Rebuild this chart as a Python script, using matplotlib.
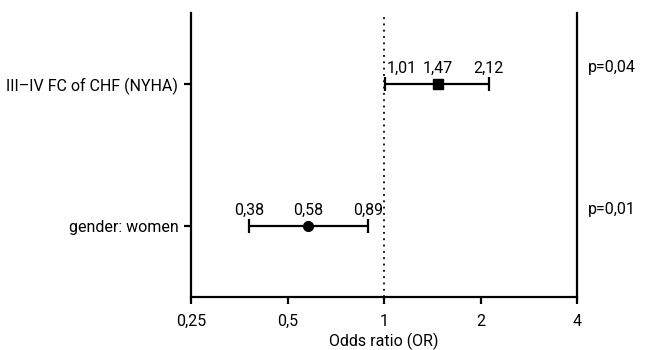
import numpy as np
import matplotlib
matplotlib.use("Agg")
import matplotlib.pyplot as plt

plt.rcParams['font.family'] = ['Roboto', 'DejaVu Sans']

# data
labels = ["III\u2013IV FC of CHF (NYHA)", "gender: women"]
odds = [1.47, 0.58]
ci_low = [1.01, 0.38]
ci_high = [2.12, 0.89]
markers = ["s", "o"]
pvals = ["p=0,04", "p=0,01"]
xticks = [0.25, 0.5, 1, 2, 4]
xtick_labels = ["0,25", "0,5", "1", "2", "4"]

FS = 11.5


def fmt(v):
    return ("%.2f" % v).replace(".", ",")


fig = plt.figure(figsize=(6.47, 3.5), dpi=100)
ax = fig.add_axes([191 / 647, 53 / 350, 386 / 647, 284 / 350])

ypos = np.arange(len(labels))
for i in range(len(labels)):
    y = ypos[i]
    ax.errorbar(odds[i], y, xerr=[[odds[i] - ci_low[i]], [ci_high[i] - odds[i]]],
                fmt=markers[i], color="black", ms=7, capsize=5, capthick=1.6,
                elinewidth=1.6)
    for v in (ci_low[i], odds[i], ci_high[i]):
        # keep labels off the dotted reference line
        dx = 0
        if 1 <= v < 1.1:
            dx = 12
        elif 0.9 < v < 1:
            dx = -4
        ax.annotate(fmt(v), (v, y), xytext=(dx, 6), textcoords="offset points",
                    ha="center", va="bottom", fontsize=FS)
    ax.text(1.027, y - 0.06, pvals[i], transform=ax.get_yaxis_transform(),
            ha="left", va="bottom", fontsize=FS)

ax.axvline(1, color="black", linestyle=(0, (1, 2.5)), lw=1.3)

ax.set_xscale("log", base=2)
ax.set_xlim(0.25, 4)
ax.set_ylim(1.5, -0.5)
ax.set_xticks(xticks)
ax.set_xticklabels(xtick_labels)
ax.minorticks_off()
ax.set_yticks(ypos)
ax.set_yticklabels(labels)
ax.tick_params(axis="both", width=1.6, length=5, labelsize=FS)
ax.tick_params(axis="y", pad=4)
ax.tick_params(axis="x", pad=7)
ax.set_xlabel("Odds ratio (OR)", fontsize=FS, labelpad=3)

ax.spines["top"].set_visible(False)
for s in ("left", "right", "bottom"):
    ax.spines[s].set_linewidth(1.6)

fig.savefig("out.png", dpi=100)
